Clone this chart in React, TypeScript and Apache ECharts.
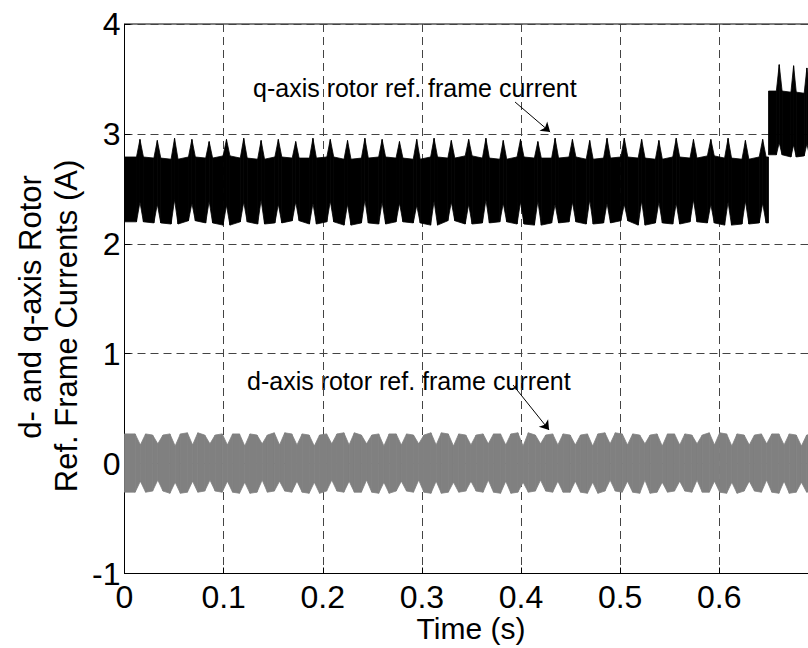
import React, { useEffect, useRef } from "react";
import * as echarts from "echarts";

// ---------- data ----------
// q-axis current: beat centres (s) before the step at 0.6497 s
const qBeatTimesA = [0.0156,0.0331,0.0505,0.0680,0.0854,0.1029,0.1203,0.1378,0.1552,0.1727,0.1901,0.2076,0.2250,0.2425,0.2599,0.2774,0.2948,0.3123,0.3297,0.3472,0.3646,0.3821,0.3995,0.4170,0.4344,0.4519,0.4693,0.4868,0.5042,0.5217,0.5391,0.5566,0.5740,0.5915,0.6089,0.6264,0.6438];
const qUpPeakA  = [2.95,2.94,2.96,2.95,2.93,2.95,2.96,2.94,2.95,2.93,2.96,2.95,2.94,2.96,2.95,2.93,2.95,2.96,2.94,2.95,2.96,2.94,2.95,2.93,2.96,2.95,2.94,2.96,2.96,2.95,2.94,2.96,2.95,2.95,2.96,2.94,2.95];
const qUpBaseA  = [2.79,2.78,2.77,2.79,2.78,2.80,2.78,2.77,2.79,2.78,2.78,2.79,2.77,2.78,2.79,2.78,2.77,2.79,2.78,2.80,2.78,2.77,2.79,2.78,2.78,2.79,2.77,2.78,2.79,2.78,2.77,2.79,2.78,2.80,2.78,2.77,2.79];
const qLoNotchA = [2.38,2.36,2.40,2.37,2.39,2.35,2.38,2.40,2.36,2.38,2.37,2.39,2.36,2.40,2.38,2.37,2.35,2.39,2.38,2.36,2.40,2.37,2.38,2.39,2.36,2.38,2.40,2.37,2.36,2.39,2.38,2.37,2.40,2.36,2.38,2.39,2.37];
const qLoDipA   = [2.20,2.19,2.18,2.21,2.19,2.17,2.20,2.18,2.19,2.21,2.18,2.20,2.17,2.19,2.18,2.20,2.19,2.17,2.21,2.18,2.19,2.20,2.18,2.17,2.19,2.20,2.18,2.19,2.21,2.17,2.19,2.18,2.20,2.19,2.17,2.18,2.19];
const qStepTime = 0.6497;
// q-axis current after the step
const qBeatTimesB = [0.6605,0.6750,0.6884,0.7020];
const qUpPeakB  = [3.63,3.62,3.60,3.62];
const qUpBaseB  = [3.39,3.38,3.37,3.38];
const qLoNotchB = [2.92,2.90,2.91,2.90];
const qLoDipB   = [2.81,2.79,2.80,2.80];
const qEndTime = 0.72;

// d-axis current: notch centres (s)
const dBeatTimes = [0.0160,0.0336,0.0511,0.0687,0.0862,0.1038,0.1213,0.1389,0.1564,0.1740,0.1915,0.2091,0.2266,0.2442,0.2617,0.2793,0.2968,0.3144,0.3319,0.3495,0.3670,0.3846,0.4021,0.4197,0.4372,0.4548,0.4723,0.4899,0.5074,0.5250,0.5425,0.5601,0.5776,0.5952,0.6127,0.6303,0.6478,0.6654,0.6829,0.7005];
const dHiNotch = [0.17,0.18,0.16,0.17,0.18,0.17,0.16,0.18,0.17,0.17,0.16,0.18,0.17,0.18,0.16,0.17,0.18,0.17,0.16,0.17,0.18,0.17,0.16,0.18,0.17,0.17,0.16,0.18,0.17,0.18,0.16,0.17,0.18,0.17,0.16,0.17,0.18,0.17,0.16,0.17];
const dLoNotch = [-0.16,-0.15,-0.17,-0.16,-0.15,-0.16,-0.17,-0.15,-0.16,-0.16,-0.17,-0.15,-0.16,-0.15,-0.17,-0.16,-0.15,-0.16,-0.17,-0.16,-0.15,-0.16,-0.17,-0.15,-0.16,-0.16,-0.17,-0.15,-0.16,-0.15,-0.17,-0.16,-0.15,-0.16,-0.17,-0.16,-0.15,-0.16,-0.17,-0.16];
const dHiArch  = [0.27,0.26,0.27,0.28,0.26,0.27,0.27,0.26,0.28,0.27,0.26,0.27,0.28,0.26,0.27,0.27,0.26,0.28,0.27,0.26,0.27,0.27,0.28,0.26,0.27,0.26,0.27,0.28,0.27,0.26,0.27,0.27,0.26,0.28,0.27,0.26,0.27,0.27,0.26,0.27];
const dLoArch  = [-0.26,-0.25,-0.27,-0.26,-0.25,-0.26,-0.27,-0.26,-0.25,-0.26,-0.27,-0.25,-0.26,-0.26,-0.27,-0.25,-0.26,-0.27,-0.26,-0.25,-0.26,-0.27,-0.26,-0.25,-0.26,-0.26,-0.27,-0.25,-0.26,-0.27,-0.26,-0.25,-0.26,-0.26,-0.27,-0.25,-0.26,-0.27,-0.26,-0.25];
const dEndTime = 0.72;

// annotation arrows (data coordinates)
const qArrow = [[0.394, 3.29], [0.4294, 3.017]];
const dArrow = [[0.392, 0.715], [0.4283, 0.306]];

// axes
const xMax = 0.8;
const yMin = -1;
const yMax = 4;

// ---------- helpers ----------
type Pt = [number, number, number];
function buildBand(
  start: number, end: number, times: number[],
  cHi: number[], cLo: number[], sHi: number[], sLo: number[], w: number
): Pt[] {
  const pts: Pt[] = [[start, sHi[0], sLo[0]]];
  const n = times.length;
  for (let i = 0; i < n; i++) {
    const t = times[i];
    const dt = i < n - 1 ? times[i + 1] - t : t - times[i - 1];
    const cand: Pt[] = [
      [t - w * dt, sHi[i], sLo[i]],
      [t, cHi[i], cLo[i]],
      [t + w * dt, sHi[i], sLo[i]],
    ];
    for (const c of cand) {
      if (c[0] > start && c[0] < end && c[0] > pts[pts.length - 1][0]) pts.push(c);
    }
  }
  pts.push([end, sHi[n - 1], sLo[n - 1]]);
  return pts;
}
function toQuads(pts: Pt[]): number[][] {
  const out: number[][] = [];
  for (let i = 0; i < pts.length - 1; i++) {
    out.push([pts[i][0], pts[i][1], pts[i][2], pts[i + 1][0], pts[i + 1][1], pts[i + 1][2]]);
  }
  return out;
}
function bandRenderer(color: string) {
  return (_params: any, api: any) => {
    const a = api.coord([api.value(0), api.value(1)]);
    const b = api.coord([api.value(3), api.value(4)]);
    const c = api.coord([api.value(3), api.value(5)]);
    const d = api.coord([api.value(0), api.value(2)]);
    return {
      type: "polygon",
      shape: { points: [a, b, c, d] },
      style: { fill: color, stroke: color, lineWidth: 0.8 },
    };
  };
}

const FONT = '"Liberation Sans", Arial, Helvetica, sans-serif';

export default function App() {
  const ref = useRef<HTMLDivElement>(null);
  useEffect(() => {
    if (!ref.current) return;
    const chart = echarts.init(ref.current, null, { renderer: "svg" });
    const qBand = [
      ...toQuads(buildBand(0, qStepTime, qBeatTimesA, qUpPeakA, qLoNotchA, qUpBaseA, qLoDipA, 0.2)),
      ...toQuads(buildBand(qStepTime, qEndTime, qBeatTimesB, qUpPeakB, qLoNotchB, qUpBaseB, qLoDipB, 0.2)),
    ];
    const dBand = toQuads(buildBand(0, dEndTime, dBeatTimes, dHiNotch, dLoNotch, dHiArch, dLoArch, 0.3));
    const axisCommon = {
      type: "value" as const,
      axisLine: { show: true, onZero: false, lineStyle: { color: "#000", width: 1 } },
      axisTick: { show: true, inside: true, length: 6, lineStyle: { color: "#000", width: 1 } },
      splitLine: { show: true, lineStyle: { type: [8, 5], color: "#444", width: 1 } },
    };
    chart.setOption({
      animation: false,
      grid: {
        left: 124.5, top: 24, width: 793, height: 549.5,
        show: true, borderColor: "#000", borderWidth: 1, backgroundColor: "transparent",
      },
      xAxis: {
        ...axisCommon,
        min: 0, max: xMax, interval: 0.1,
        axisLabel: {
          fontSize: 32, color: "#000", fontFamily: FONT, margin: 7,
          formatter: (v: number) => (v > 0.65 ? "" : String(Math.round(v * 10) / 10)),
        },
      },
      yAxis: {
        ...axisCommon,
        min: yMin, max: yMax, interval: 1,
        axisLabel: { fontSize: 32, color: "#000", fontFamily: FONT, margin: 4 },
      },
      series: [
        {
          type: "custom", name: "d", renderItem: bandRenderer("#808080"),
          data: dBand, encode: { x: [0, 3], y: [1, 2, 4, 5] }, clip: true, silent: true,
        },
        {
          type: "custom", name: "q", renderItem: bandRenderer("#000000"),
          data: qBand, encode: { x: [0, 3], y: [1, 2, 4, 5] }, clip: true, silent: true,
        },
        {
          type: "lines", coordinateSystem: "cartesian2d", silent: true,
          symbol: ["none", "arrow"], symbolSize: 9,
          lineStyle: { color: "#000", width: 1, opacity: 1 },
          data: [{ coords: qArrow }, { coords: dArrow }],
        },
      ],
      graphic: [
        {
          type: "text", x: 253, y: 88,
          style: { text: "q-axis rotor ref. frame current", font: `25px ${FONT}`, fill: "#000", verticalAlign: "middle", align: "left" },
        },
        {
          type: "text", x: 247, y: 381,
          style: { text: "d-axis rotor ref. frame current", font: `25px ${FONT}`, fill: "#000", verticalAlign: "middle", align: "left" },
        },
        {
          type: "text", x: 471, y: 628,
          style: { text: "Time (s)", font: `30px ${FONT}`, fill: "#000", verticalAlign: "middle", align: "center" },
        },
        {
          type: "text", x: 30, y: 307, rotation: Math.PI / 2,
          style: { text: "d- and q-axis Rotor", font: `31px ${FONT}`, fill: "#000", verticalAlign: "middle", align: "center" },
        },
        {
          type: "text", x: 66, y: 326, rotation: Math.PI / 2,
          style: { text: "Ref. Frame Currents (A)", font: `31px ${FONT}`, fill: "#000", verticalAlign: "middle", align: "center" },
        },
      ],
    });
    return () => chart.dispose();
  }, []);
  return (
    <div style={{ position: "fixed", left: 0, top: 0, width: 808, height: 648, overflow: "hidden", background: "#fff" }}>
      <div ref={ref} style={{ width: 940, height: 648 }} />
    </div>
  );
}
